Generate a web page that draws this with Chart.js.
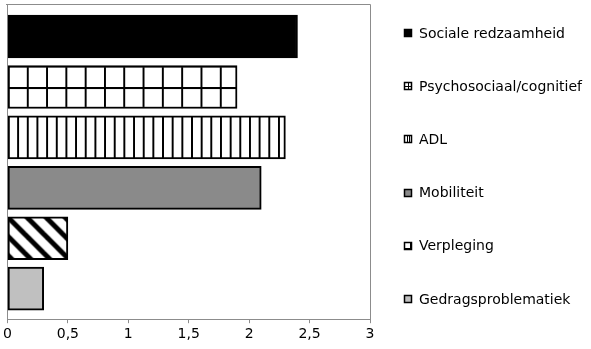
<!DOCTYPE html>
<html>
<head>
<meta charset="utf-8">
<script src="https://cdn.jsdelivr.net/npm/chart.js@4/dist/chart.umd.min.js"></script>
<style>
  html, body { margin: 0; padding: 0; background: #fff; }
  #wrap { width: 591px; height: 349px; }
</style>
</head>
<body>
<div id="wrap"><canvas id="chart" width="591" height="349"></canvas></div>
<script>
// Categories, scores and axis ticks
const categories = ['Sociale redzaamheid', 'Psychosociaal/cognitief', 'ADL', 'Mobiliteit', 'Verpleging', 'Gedragsproblematiek'];
const scores = [2.4, 1.9, 2.3, 2.1, 0.5, 0.3];
const xTicks = [0, 0.5, 1, 1.5, 2, 2.5, 3];

// fill style per bar
const fillKinds = ['solid', 'grid', 'vstripe', 'gray', 'diag', 'light'];

const AXIS_GRAY = '#8c8c8c';
const FONT = '"DejaVu Sans", Verdana, sans-serif';

function makeTile(w, h, paint) {
    const c = document.createElement('canvas');
    c.width = w;
    c.height = h;
    const g = c.getContext('2d');
    g.fillStyle = '#fff';
    g.fillRect(0, 0, w, h);
    paint(g, w, h);
    return c;
}

const ctx = document.getElementById('chart').getContext('2d');

// tiles for the patterned bars
const tiles = {
    grid: makeTile(20, 21, (g, w, h) => {
        g.fillStyle = '#000';
        g.fillRect(0, 0, 2, h);
        g.fillRect(0, 0, w, 2);
    }),
    vstripe: makeTile(10, 10, (g, w, h) => {
        g.fillStyle = '#000';
        g.fillRect(0, 0, 2, h);
    }),
    diag: makeTile(19, 19, (g, w, h) => {
        g.strokeStyle = '#000';
        g.lineWidth = 5;
        for (let k = -1; k <= 1; k++) {
            g.beginPath();
            g.moveTo(k * w - w, -h);
            g.lineTo(k * w + 2 * w, 2 * h);
            g.stroke();
        }
    })
};

const patterns = {
    grid: ctx.createPattern(tiles.grid, 'repeat'),
    vstripe: ctx.createPattern(tiles.vstripe, 'repeat'),
    diag: ctx.createPattern(tiles.diag, 'repeat')
};

function fillFor(kind) {
    switch (kind) {
        case 'solid': return '#000';
        case 'gray': return '#8a8a8a';
        case 'light': return '#c0c0c0';
        default: return patterns[kind];
    }
}

// line patterns up with the start of each bar
const patternAnchor = {
    id: 'patternAnchor',
    beforeDatasetsDraw(chart) {
        const x0 = chart.scales.x.getPixelForValue(0);
        const meta = chart.getDatasetMeta(0);
        fillKinds.forEach((kind, i) => {
            const p = patterns[kind];
            if (!p) return;
            const bar = meta.data[i];
            const top = bar.y - bar.height / 2;
            let m = new DOMMatrix().translate(x0, top);
            if (kind === 'grid') m = m.scale(19.3 / 20, bar.height / 42);
            if (kind === 'vstripe') m = m.scale(0.966, 1);
            p.setTransform(m);
        });
    }
};

// grey frame along the top and right of the plot
const plotFrame = {
    id: 'plotFrame',
    afterDraw(chart) {
        const a = chart.chartArea;
        const c = chart.ctx;
        c.save();
        c.strokeStyle = AXIS_GRAY;
        c.lineWidth = 1;
        c.beginPath();
        c.moveTo(Math.round(a.left) - 1, Math.round(a.top) + 0.5);
        c.lineTo(Math.round(a.right) + 0.5, Math.round(a.top) + 0.5);
        c.lineTo(Math.round(a.right) + 0.5, Math.round(a.bottom));
        c.stroke();
        c.restore();
    }
};

// legend column to the right of the plot
const sideLegend = {
    id: 'sideLegend',
    afterDraw(chart, args, opts) {
        const c = chart.ctx;
        const x = chart.chartArea.right + opts.offsetX;
        c.save();
        c.font = '14px ' + FONT;
        c.textBaseline = 'middle';
        categories.forEach((label, i) => {
            const y = opts.firstY + i * opts.gap;
            const bx = x, by = Math.round(y - 4);
            const s = 8;
            const kind = fillKinds[i];
            c.fillStyle = kind === 'solid' ? '#000' : kind === 'gray' ? '#8a8a8a' : kind === 'light' ? '#c0c0c0' : '#fff';
            c.fillRect(bx, by, s, s);
            c.fillStyle = '#000';
            if (kind === 'grid') {
                c.fillRect(bx + 4, by, 1, s);
                c.fillRect(bx, by + 4, s, 1);
            } else if (kind === 'vstripe') {
                c.fillRect(bx + 3, by, 1, s);
                c.fillRect(bx + 5, by, 1, s);
            } else if (kind === 'diag') {
                c.fillRect(bx + s - 2, by, 2, s);
                c.fillRect(bx, by + s - 2, s, 2);
            }
            c.strokeStyle = '#000';
            c.lineWidth = 1.5;
            c.strokeRect(bx + 0.5, by + 0.5, s - 1, s - 1);
            c.fillText(label, x + 15, y + 1);
        });
        c.restore();
    }
};

new Chart(ctx, {
    type: 'bar',
    data: {
        labels: categories,
        datasets: [{
            data: scores.map((v, i) => ({ x: v, y: i })),
            backgroundColor: fillKinds.map(fillFor),
            borderColor: '#000',
            borderWidth: 2,
            borderSkipped: false,
            barThickness: 43
        }]
    },
    options: {
        indexAxis: 'y',
        responsive: false,
        animation: false,
        events: [],
        layout: { padding: { left: 7, top: 4, right: 221, bottom: 3 } },
        plugins: {
            legend: { display: false },
            tooltip: { enabled: false },
            sideLegend: { offsetX: 34, firstY: 33, gap: 53.2 }
        },
        scales: {
            x: {
                type: 'linear',
                min: 0,
                max: 3,
                afterBuildTicks(scale) {
                    scale.ticks = xTicks.map(v => ({ value: v }));
                },
                ticks: {
                    color: '#000',
                    font: { family: FONT, size: 14 },
                    padding: 3,
                    maxRotation: 0,
                    callback: v => String(v).replace('.', ',')
                },
                grid: {
                    drawOnChartArea: false,
                    drawTicks: true,
                    tickLength: 4,
                    color: AXIS_GRAY
                },
                border: { color: AXIS_GRAY, width: 1 }
            },
            y: {
                type: 'linear',
                reverse: true,
                offset: false,
                min: -0.645,
                max: 5.605,
                ticks: { display: false },
                grid: { display: false, drawTicks: false, offset: false },
                border: { color: AXIS_GRAY, width: 1 }
            }
        }
    },
    plugins: [patternAnchor, plotFrame, sideLegend]
});
</script>
</body>
</html>
